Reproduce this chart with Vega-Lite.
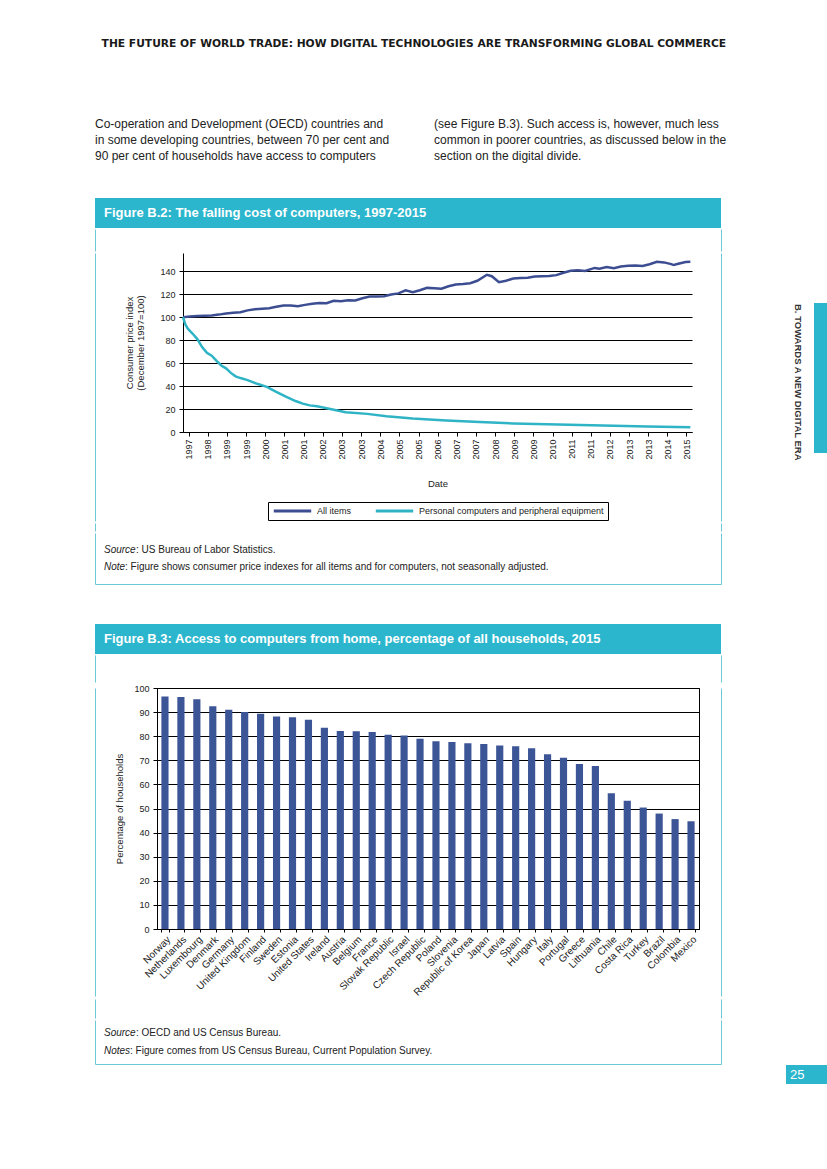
{
  "$schema": "https://vega.github.io/schema/vega-lite/v6.json",
  "background": "white",
  "padding": {"left": 94, "top": 38, "right": 0, "bottom": 20},
  "config": {
    "view": {"stroke": null},
    "font": "Liberation Sans",
    "axis": {"labelFont": "Liberation Sans", "titleFont": "Liberation Sans", "labelColor": "#222", "titleColor": "#222", "domainColor": "black", "tickColor": "black", "gridColor": "black", "titleFontWeight": "normal"},
    "legend": {"labelFont": "Liberation Sans", "layout": {"bottom": {"anchor": "middle"}}}
  },
  "spacing": 59,
  "hconcat": [
    {
      "title": {"text": "THE FUTURE OF WORLD TRADE: HOW DIGITAL TECHNOLOGIES ARE TRANSFORMING GLOBAL COMMERCE", "anchor": "end", "font": "DejaVu Sans", "fontSize": 10.7, "fontWeight": "bold", "color": "#1a1a1a", "offset": 63},
      "spacing": 31,
      "vconcat": [
        {
          "spacing": 38,
          "hconcat": [
            {
              "width": 301, "height": 54,
              "data": {"values": [
                {"line": 1, "text": "Co-operation and Development (OECD) countries and"},
                {"line": 2, "text": "in some developing countries, between 70 per cent and"},
                {"line": 3, "text": "90 per cent of households have access to computers"}
              ]},
              "mark": {"type": "text", "align": "left", "baseline": "middle", "fontSize": 12, "color": "#222"},
              "encoding": {
                "x": {"value": 0},
                "y": {"field": "line", "type": "ordinal", "axis": null, "scale": {"type": "point", "padding": 0.6875}},
                "text": {"field": "text"}
              }
            },
            {
              "width": 287, "height": 54,
              "data": {"values": [
                {"line": 1, "text": "(see Figure B.3). Such access is, however, much less"},
                {"line": 2, "text": "common in poorer countries, as discussed below in the"},
                {"line": 3, "text": "section on the digital divide."}
              ]},
              "mark": {"type": "text", "align": "left", "baseline": "middle", "fontSize": 12, "color": "#222"},
              "encoding": {
                "x": {"value": 0},
                "y": {"field": "line", "type": "ordinal", "axis": null, "scale": {"type": "point", "padding": 0.6875}},
                "text": {"field": "text"}
              }
            }
          ]
        },
        {
          "spacing": 0,
          "vconcat": [
            {
              "width": 626, "height": 30,
              "view": {"fill": "#2bb6cd"},
              "data": {"values": [{"t": "Figure B.2: The falling cost of computers, 1997-2015"}]},
              "mark": {"type": "text", "align": "left", "baseline": "middle", "dx": -304, "fontSize": 13, "fontWeight": "bold", "color": "white"},
              "encoding": {"text": {"field": "t"}}
            },
            {"width": 626, "height": 22, "view": {"stroke": "#6cc9d6", "strokeWidth": 1, "strokeDash": [0, 626, 22, 626, 22]}, "data": {"values": []}, "mark": "point"},
            {
              "spacing": 0,
              "bounds": "flush",
              "resolve": {"scale": {"color": "independent"}, "legend": {"color": "independent"}},
              "hconcat": [
                {"width": 88, "height": 268, "view": {"stroke": "#6cc9d6", "strokeWidth": 1, "strokeDash": [0, 444, 268]}, "data": {"values": []}, "mark": "point"},
                {
                  "width": 509, "height": 179,
                  "data": {"values": [
                    {"date": "1997-12-01", "series": "All items", "value": 100},
                    {"date": "1998-03-01", "series": "All items", "value": 100.6},
                    {"date": "1998-06-01", "series": "All items", "value": 101.0},
                    {"date": "1998-09-01", "series": "All items", "value": 101.3},
                    {"date": "1998-12-01", "series": "All items", "value": 101.6},
                    {"date": "1999-03-01", "series": "All items", "value": 102.3},
                    {"date": "1999-06-01", "series": "All items", "value": 103.2},
                    {"date": "1999-09-01", "series": "All items", "value": 104.0},
                    {"date": "1999-12-01", "series": "All items", "value": 104.3},
                    {"date": "2000-03-01", "series": "All items", "value": 106.0},
                    {"date": "2000-06-01", "series": "All items", "value": 106.9},
                    {"date": "2000-09-01", "series": "All items", "value": 107.5},
                    {"date": "2000-12-01", "series": "All items", "value": 107.8},
                    {"date": "2001-03-01", "series": "All items", "value": 109.2},
                    {"date": "2001-06-01", "series": "All items", "value": 110.3},
                    {"date": "2001-09-01", "series": "All items", "value": 110.2},
                    {"date": "2001-12-01", "series": "All items", "value": 109.6},
                    {"date": "2002-03-01", "series": "All items", "value": 110.8},
                    {"date": "2002-06-01", "series": "All items", "value": 111.8},
                    {"date": "2002-09-01", "series": "All items", "value": 112.4},
                    {"date": "2002-12-01", "series": "All items", "value": 112.2},
                    {"date": "2003-03-01", "series": "All items", "value": 114.4},
                    {"date": "2003-06-01", "series": "All items", "value": 114.0},
                    {"date": "2003-09-01", "series": "All items", "value": 114.9},
                    {"date": "2003-12-01", "series": "All items", "value": 114.6},
                    {"date": "2004-03-01", "series": "All items", "value": 116.5},
                    {"date": "2004-06-01", "series": "All items", "value": 118.0},
                    {"date": "2004-09-01", "series": "All items", "value": 118.1},
                    {"date": "2004-12-01", "series": "All items", "value": 118.3},
                    {"date": "2005-03-01", "series": "All items", "value": 119.8},
                    {"date": "2005-06-01", "series": "All items", "value": 120.8},
                    {"date": "2005-09-01", "series": "All items", "value": 123.4},
                    {"date": "2005-12-01", "series": "All items", "value": 121.8},
                    {"date": "2006-03-01", "series": "All items", "value": 123.5},
                    {"date": "2006-06-01", "series": "All items", "value": 125.6},
                    {"date": "2006-09-01", "series": "All items", "value": 125.3},
                    {"date": "2006-12-01", "series": "All items", "value": 124.8},
                    {"date": "2007-03-01", "series": "All items", "value": 127.0},
                    {"date": "2007-06-01", "series": "All items", "value": 128.6},
                    {"date": "2007-09-01", "series": "All items", "value": 128.9},
                    {"date": "2007-12-01", "series": "All items", "value": 129.6},
                    {"date": "2008-03-01", "series": "All items", "value": 131.8},
                    {"date": "2008-07-01", "series": "All items", "value": 137.0},
                    {"date": "2008-09-01", "series": "All items", "value": 135.8},
                    {"date": "2008-12-01", "series": "All items", "value": 130.5},
                    {"date": "2009-03-01", "series": "All items", "value": 131.8},
                    {"date": "2009-06-01", "series": "All items", "value": 133.8},
                    {"date": "2009-09-01", "series": "All items", "value": 134.2},
                    {"date": "2009-12-01", "series": "All items", "value": 134.5},
                    {"date": "2010-03-01", "series": "All items", "value": 135.5},
                    {"date": "2010-06-01", "series": "All items", "value": 135.8},
                    {"date": "2010-09-01", "series": "All items", "value": 136.0},
                    {"date": "2010-12-01", "series": "All items", "value": 136.7},
                    {"date": "2011-03-01", "series": "All items", "value": 138.8},
                    {"date": "2011-06-01", "series": "All items", "value": 140.5},
                    {"date": "2011-09-01", "series": "All items", "value": 140.9},
                    {"date": "2011-12-01", "series": "All items", "value": 140.3},
                    {"date": "2012-04-01", "series": "All items", "value": 143.0},
                    {"date": "2012-06-01", "series": "All items", "value": 142.2},
                    {"date": "2012-09-01", "series": "All items", "value": 143.8},
                    {"date": "2012-12-01", "series": "All items", "value": 142.8},
                    {"date": "2013-03-01", "series": "All items", "value": 144.2},
                    {"date": "2013-06-01", "series": "All items", "value": 144.9},
                    {"date": "2013-09-01", "series": "All items", "value": 145.1},
                    {"date": "2013-12-01", "series": "All items", "value": 144.6},
                    {"date": "2014-03-01", "series": "All items", "value": 146.2},
                    {"date": "2014-06-01", "series": "All items", "value": 148.3},
                    {"date": "2014-09-01", "series": "All items", "value": 147.8},
                    {"date": "2014-12-01", "series": "All items", "value": 146.3},
                    {"date": "2015-01-01", "series": "All items", "value": 145.5},
                    {"date": "2015-03-01", "series": "All items", "value": 146.6},
                    {"date": "2015-06-01", "series": "All items", "value": 148.2},
                    {"date": "2015-08-01", "series": "All items", "value": 148.3},
                    {"date": "1997-12-01", "series": "Personal computers and peripheral equipment", "value": 100},
                    {"date": "1998-01-01", "series": "Personal computers and peripheral equipment", "value": 93.5},
                    {"date": "1998-02-01", "series": "Personal computers and peripheral equipment", "value": 90},
                    {"date": "1998-03-01", "series": "Personal computers and peripheral equipment", "value": 88},
                    {"date": "1998-04-01", "series": "Personal computers and peripheral equipment", "value": 85.8},
                    {"date": "1998-06-01", "series": "Personal computers and peripheral equipment", "value": 81},
                    {"date": "1998-08-01", "series": "Personal computers and peripheral equipment", "value": 74},
                    {"date": "1998-10-01", "series": "Personal computers and peripheral equipment", "value": 69},
                    {"date": "1998-12-01", "series": "Personal computers and peripheral equipment", "value": 66.5},
                    {"date": "1999-02-01", "series": "Personal computers and peripheral equipment", "value": 62},
                    {"date": "1999-04-01", "series": "Personal computers and peripheral equipment", "value": 58},
                    {"date": "1999-06-01", "series": "Personal computers and peripheral equipment", "value": 55.5},
                    {"date": "1999-08-01", "series": "Personal computers and peripheral equipment", "value": 51.5},
                    {"date": "1999-10-01", "series": "Personal computers and peripheral equipment", "value": 48.5},
                    {"date": "1999-12-01", "series": "Personal computers and peripheral equipment", "value": 47},
                    {"date": "2000-03-01", "series": "Personal computers and peripheral equipment", "value": 45.2},
                    {"date": "2000-07-01", "series": "Personal computers and peripheral equipment", "value": 42},
                    {"date": "2000-11-01", "series": "Personal computers and peripheral equipment", "value": 39.3},
                    {"date": "2001-03-01", "series": "Personal computers and peripheral equipment", "value": 35},
                    {"date": "2001-07-01", "series": "Personal computers and peripheral equipment", "value": 30.8},
                    {"date": "2001-11-01", "series": "Personal computers and peripheral equipment", "value": 27},
                    {"date": "2002-02-01", "series": "Personal computers and peripheral equipment", "value": 24.7},
                    {"date": "2002-05-01", "series": "Personal computers and peripheral equipment", "value": 23.2},
                    {"date": "2002-08-01", "series": "Personal computers and peripheral equipment", "value": 22.5},
                    {"date": "2003-01-01", "series": "Personal computers and peripheral equipment", "value": 20.3},
                    {"date": "2003-08-01", "series": "Personal computers and peripheral equipment", "value": 17.2},
                    {"date": "2004-05-01", "series": "Personal computers and peripheral equipment", "value": 15.8},
                    {"date": "2005-01-01", "series": "Personal computers and peripheral equipment", "value": 13.8},
                    {"date": "2005-12-01", "series": "Personal computers and peripheral equipment", "value": 11.8},
                    {"date": "2007-02-01", "series": "Personal computers and peripheral equipment", "value": 10},
                    {"date": "2008-04-01", "series": "Personal computers and peripheral equipment", "value": 8.8},
                    {"date": "2009-06-01", "series": "Personal computers and peripheral equipment", "value": 7.5},
                    {"date": "2010-08-01", "series": "Personal computers and peripheral equipment", "value": 6.8},
                    {"date": "2011-10-01", "series": "Personal computers and peripheral equipment", "value": 6},
                    {"date": "2012-12-01", "series": "Personal computers and peripheral equipment", "value": 5.4},
                    {"date": "2014-02-01", "series": "Personal computers and peripheral equipment", "value": 4.8},
                    {"date": "2015-08-01", "series": "Personal computers and peripheral equipment", "value": 4.2}
                  ]},
                  "mark": {"type": "line", "strokeWidth": 2.5},
                  "encoding": {
                    "x": {
                      "field": "date", "type": "temporal",
                      "scale": {"type": "utc", "domain": [{"year": 1997, "month": 12, "date": 1, "utc": true}, {"year": 2015, "month": 8, "date": 22, "utc": true}]},
                      "axis": {
                        "title": "Date", "titleFontSize": 9.5, "titlePadding": 19,
                        "grid": false, "tickSize": 4, "labelPadding": 3, "labelAngle": -90, "labelFontSize": 9,
                        "labelOverlap": false, "labelFlush": false,
                        "labelExpr": "utcFormat(datum.value - 6480000000, '%Y')",
                        "values": [
                          {"year": 1998, "month": 2, "date": 13, "utc": true},
                          {"year": 1998, "month": 10, "date": 13, "utc": true},
                          {"year": 1999, "month": 6, "date": 13, "utc": true},
                          {"year": 2000, "month": 2, "date": 13, "utc": true},
                          {"year": 2000, "month": 10, "date": 13, "utc": true},
                          {"year": 2001, "month": 6, "date": 13, "utc": true},
                          {"year": 2002, "month": 2, "date": 13, "utc": true},
                          {"year": 2002, "month": 10, "date": 13, "utc": true},
                          {"year": 2003, "month": 6, "date": 13, "utc": true},
                          {"year": 2004, "month": 2, "date": 13, "utc": true},
                          {"year": 2004, "month": 10, "date": 13, "utc": true},
                          {"year": 2005, "month": 6, "date": 13, "utc": true},
                          {"year": 2006, "month": 2, "date": 13, "utc": true},
                          {"year": 2006, "month": 10, "date": 13, "utc": true},
                          {"year": 2007, "month": 6, "date": 13, "utc": true},
                          {"year": 2008, "month": 2, "date": 13, "utc": true},
                          {"year": 2008, "month": 10, "date": 13, "utc": true},
                          {"year": 2009, "month": 6, "date": 13, "utc": true},
                          {"year": 2010, "month": 2, "date": 13, "utc": true},
                          {"year": 2010, "month": 10, "date": 13, "utc": true},
                          {"year": 2011, "month": 6, "date": 13, "utc": true},
                          {"year": 2012, "month": 2, "date": 13, "utc": true},
                          {"year": 2012, "month": 10, "date": 13, "utc": true},
                          {"year": 2013, "month": 6, "date": 13, "utc": true},
                          {"year": 2014, "month": 2, "date": 13, "utc": true},
                          {"year": 2014, "month": 10, "date": 13, "utc": true},
                          {"year": 2015, "month": 6, "date": 13, "utc": true}
                        ]
                      }
                    },
                    "y": {
                      "field": "value", "type": "quantitative",
                      "scale": {"domain": [0, 156], "nice": false},
                      "axis": {"title": ["Consumer price index", "(December 1997=100)"], "titleFontSize": 9.5, "titlePadding": 14, "values": [0, 20, 40, 60, 80, 100, 120, 140], "grid": true, "gridWidth": 1, "tickSize": 4, "labelPadding": 4, "labelFontSize": 9}
                    },
                    "color": {
                      "field": "series", "type": "nominal",
                      "scale": {"domain": ["All items", "Personal computers and peripheral equipment"], "range": ["#3c4e91", "#2fb4c6"]},
                      "legend": {"title": null, "orient": "bottom", "direction": "horizontal", "strokeColor": "black", "padding": 4, "symbolType": "stroke", "symbolSize": 1400, "symbolStrokeWidth": 3, "clipHeight": 10, "labelFontSize": 9, "labelColor": "#222", "columnPadding": 22, "offset": 14, "labelLimit": 400}
                    }
                  }
                },
                {"width": 29, "height": 268, "view": {"stroke": "#6cc9d6", "strokeWidth": 1, "strokeDash": [0, 29, 268, 297]}, "data": {"values": []}, "mark": "point"}
              ]
            },
            {"width": 626, "height": 8, "view": {"stroke": "#6cc9d6", "strokeWidth": 1, "strokeDash": [0, 626, 8, 626, 8]}, "data": {"values": []}, "mark": "point"},
            {
              "width": 626, "height": 51,
              "view": {"stroke": "#6cc9d6", "strokeWidth": 1, "strokeDash": [0, 626, 728]},
              "data": {"values": [
                {"line": 1, "label": "Source", "rest": ": US Bureau of Labor Statistics."},
                {"line": 2, "label": "Note", "rest": ": Figure shows consumer price indexes for all items and for computers, not seasonally adjusted."}
              ]},
              "encoding": {"y": {"field": "line", "type": "ordinal", "axis": null, "scale": {"type": "point", "padding": 1}}},
              "layer": [
                {"mark": {"type": "text", "align": "left", "baseline": "middle", "fontSize": 10, "fontStyle": "italic", "color": "#222"}, "encoding": {"x": {"value": 9}, "text": {"field": "label"}}},
                {"transform": [{"filter": "datum.line == 1"}], "mark": {"type": "text", "align": "left", "baseline": "middle", "fontSize": 10, "color": "#222", "dx": 32}, "encoding": {"x": {"value": 9}, "text": {"field": "rest"}}},
                {"transform": [{"filter": "datum.line == 2"}], "mark": {"type": "text", "align": "left", "baseline": "middle", "fontSize": 10, "color": "#222", "dx": 21}, "encoding": {"x": {"value": 9}, "text": {"field": "rest"}}}
              ]
            },
            {"width": 626, "height": 8, "data": {"values": []}, "mark": "point"}
          ]
        },
        {
          "spacing": 0,
          "vconcat": [
            {
              "width": 626, "height": 30,
              "view": {"fill": "#2bb6cd"},
              "data": {"values": [{"t": "Figure B.3: Access to computers from home, percentage of all households, 2015"}]},
              "mark": {"type": "text", "align": "left", "baseline": "middle", "dx": -304, "fontSize": 13, "fontWeight": "bold", "color": "white"},
              "encoding": {"text": {"field": "t"}}
            },
            {"width": 626, "height": 27, "view": {"stroke": "#6cc9d6", "strokeWidth": 1, "strokeDash": [0, 626, 27, 626, 27]}, "data": {"values": []}, "mark": "point"},
            {
              "spacing": 0,
              "bounds": "flush",
              "hconcat": [
                {"width": 62, "height": 308, "view": {"stroke": "#6cc9d6", "strokeWidth": 1, "strokeDash": [0, 432, 308]}, "data": {"values": []}, "mark": "point"},
                {
                  "width": 542, "height": 241,
                  "view": {"stroke": "black", "strokeWidth": 1},
                  "data": {"values": [
                    {"country": "Norway", "pct": 96.5},
                    {"country": "Netherlands", "pct": 96.3},
                    {"country": "Luxembourg", "pct": 95.3},
                    {"country": "Denmark", "pct": 92.4},
                    {"country": "Germany", "pct": 91.0},
                    {"country": "United Kingdom", "pct": 90.0},
                    {"country": "Finland", "pct": 89.3},
                    {"country": "Sweden", "pct": 88.2},
                    {"country": "Estonia", "pct": 87.9},
                    {"country": "United States", "pct": 86.8},
                    {"country": "Ireland", "pct": 83.5},
                    {"country": "Austria", "pct": 82.2},
                    {"country": "Belgium", "pct": 82.1},
                    {"country": "France", "pct": 81.7},
                    {"country": "Slovak Republic", "pct": 80.6},
                    {"country": "Israel", "pct": 80.3},
                    {"country": "Czech Republic", "pct": 78.9},
                    {"country": "Poland", "pct": 77.9},
                    {"country": "Slovenia", "pct": 77.6},
                    {"country": "Republic of Korea", "pct": 77.1},
                    {"country": "Japan", "pct": 76.8},
                    {"country": "Latvia", "pct": 76.1},
                    {"country": "Spain", "pct": 75.8},
                    {"country": "Hungary", "pct": 75.0},
                    {"country": "Italy", "pct": 72.5},
                    {"country": "Portugal", "pct": 71.1},
                    {"country": "Greece", "pct": 68.5},
                    {"country": "Lithuania", "pct": 67.6},
                    {"country": "Chile", "pct": 56.3},
                    {"country": "Costa Rica", "pct": 53.2},
                    {"country": "Turkey", "pct": 50.4},
                    {"country": "Brazil", "pct": 47.9},
                    {"country": "Colombia", "pct": 45.6},
                    {"country": "Mexico", "pct": 44.7}
                  ]},
                  "mark": {"type": "bar", "color": "#3b5596"},
                  "encoding": {
                    "x": {
                      "field": "country", "type": "nominal", "sort": null,
                      "scale": {"paddingInner": 0.55, "paddingOuter": 0.275},
                      "axis": {"title": null, "labelAngle": -45, "labelFontSize": 10, "tickBand": "extent", "tickSize": 3, "labelPadding": 2, "labelOverlap": false}
                    },
                    "y": {
                      "field": "pct", "type": "quantitative",
                      "scale": {"domain": [0, 100], "nice": false},
                      "axis": {"title": "Percentage of households", "titleFontSize": 9.5, "titlePadding": 9, "values": [0, 10, 20, 30, 40, 50, 60, 70, 80, 90, 100], "grid": true, "tickSize": 4, "labelPadding": 4, "labelFontSize": 9}
                    }
                  }
                },
                {"width": 22, "height": 308, "view": {"stroke": "#6cc9d6", "strokeWidth": 1, "strokeDash": [0, 22, 308, 330]}, "data": {"values": []}, "mark": "point"}
              ]
            },
            {"width": 626, "height": 19, "view": {"stroke": "#6cc9d6", "strokeWidth": 1, "strokeDash": [0, 626, 19, 626, 19]}, "data": {"values": []}, "mark": "point"},
            {
              "width": 626, "height": 44,
              "view": {"stroke": "#6cc9d6", "strokeWidth": 1, "strokeDash": [0, 626, 714]},
              "data": {"values": [
                {"line": 1, "label": "Source", "rest": ": OECD and US Census Bureau."},
                {"line": 2, "label": "Notes", "rest": ": Figure comes from US Census Bureau, Current Population Survey."}
              ]},
              "encoding": {"y": {"field": "line", "type": "ordinal", "axis": null, "scale": {"type": "point", "padding": 0.75}}},
              "layer": [
                {"mark": {"type": "text", "align": "left", "baseline": "middle", "fontSize": 10, "fontStyle": "italic", "color": "#222"}, "encoding": {"x": {"value": 9}, "text": {"field": "label"}}},
                {"transform": [{"filter": "datum.line == 1"}], "mark": {"type": "text", "align": "left", "baseline": "middle", "fontSize": 10, "color": "#222", "dx": 32}, "encoding": {"x": {"value": 9}, "text": {"field": "rest"}}},
                {"transform": [{"filter": "datum.line == 2"}], "mark": {"type": "text", "align": "left", "baseline": "middle", "fontSize": 10, "color": "#222", "dx": 26}, "encoding": {"x": {"value": 9}, "text": {"field": "rest"}}}
              ]
            }
          ]
        }
      ]
    },
    {
      "spacing": 0,
      "hconcat": [
        {
          "spacing": 0,
          "vconcat": [
            {"width": 28, "height": 190, "data": {"values": []}, "mark": "point"},
            {
              "width": 28, "height": 190,
              "data": {"values": [{"label": "B. TOWARDS A NEW DIGITAL ERA"}]},
              "mark": {"type": "text", "angle": 90, "align": "left", "baseline": "middle", "dx": -94, "dy": 2, "fontSize": 9.5, "fontWeight": "bold", "color": "#333"},
              "encoding": {"text": {"field": "label"}}
            },
            {"width": 28, "height": 572, "data": {"values": []}, "mark": "point"},
            {
              "width": 28, "height": 19,
              "view": {"fill": "#2bb6cd"},
              "data": {"values": [{"n": "25"}]},
              "mark": {"type": "text", "align": "left", "baseline": "middle", "dx": -10, "fontSize": 13, "color": "white"},
              "encoding": {"text": {"field": "n"}}
            }
          ]
        },
        {
          "spacing": 0,
          "vconcat": [
            {"width": 19, "height": 190, "data": {"values": []}, "mark": "point"},
            {"width": 19, "height": 150, "view": {"fill": "#2bb6cd"}, "data": {"values": []}, "mark": "point"},
            {"width": 19, "height": 612, "data": {"values": []}, "mark": "point"},
            {"width": 19, "height": 19, "view": {"fill": "#2bb6cd"}, "data": {"values": []}, "mark": "point"}
          ]
        }
      ]
    }
  ]
}
